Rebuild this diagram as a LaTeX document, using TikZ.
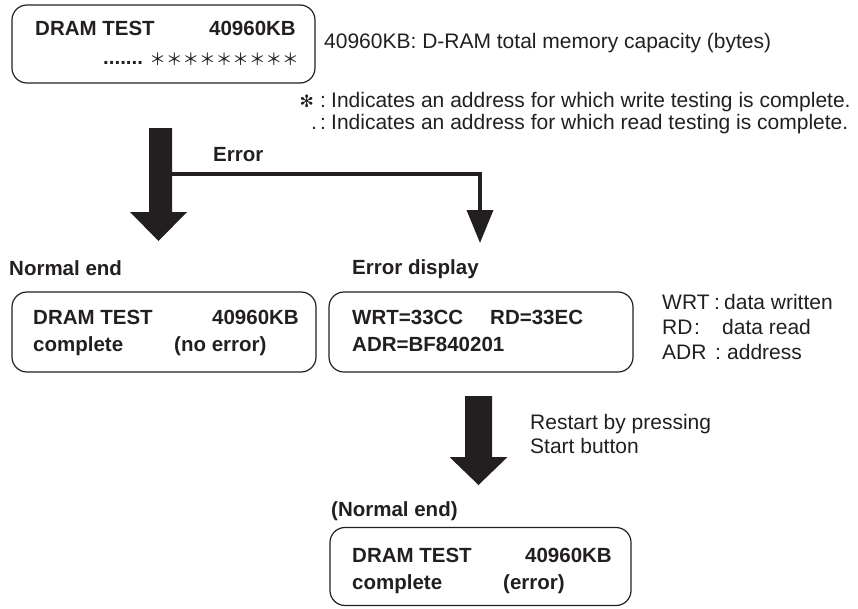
\documentclass[tikz,border=0pt]{standalone}
\usepackage{fontspec}
\setmainfont{Liberation Sans}
\newfontfamily\cjk{Noto Sans CJK JP}
\newfontfamily\dejavu{DejaVu Sans}
\usetikzlibrary{arrows.meta}
\definecolor{ink}{RGB}{35,31,32}
\begin{document}
\begin{tikzpicture}[x=1pt,y=-1pt,color=ink,
  lcd/.style={draw=ink,line width=1.2pt,rounded corners=15pt,inner sep=0pt},
  bt/.style={inner sep=0pt,text=ink,font=\fontsize{20.5}{24}\selectfont\bfseries},
  rt/.style={inner sep=0pt,text=ink,font=\fontsize{21}{25}\selectfont},
  thinarrow/.style={draw=ink,line width=3.5pt,-{Triangle[width=26pt,length=33pt]}}]
\useasboundingbox (0,0) rectangle (858,608);
% boxes
\node[lcd,minimum width=303pt,minimum height=78pt] (box1) at (163.5,44) {};
\node[lcd,minimum width=304pt,minimum height=80pt] (box2) at (164,332) {};
\node[lcd,minimum width=304pt,minimum height=80pt] (box3) at (481,332) {};
\node[lcd,minimum width=301pt,minimum height=78pt] (box4) at (480.5,566.5) {};
% box1 text
\node[bt,anchor=base west] (b1a) at (35,35) {DRAM TEST};
\node[bt,anchor=base east] (b1b) at (296,35) {40960KB};
\node[bt,anchor=base west] (b1c) at (103,64) {.......};
\node[inner sep=0pt,anchor=base east,text=ink,font=\cjk\fontsize{16.6}{20}\selectfont] (b1d) at (299,65) {＊＊＊＊＊＊＊＊＊};
% notes
\node[rt,anchor=base west] (n1) at (324,48) {40960KB: D-RAM total memory capacity (bytes)};
\node[inner sep=0pt,anchor=base east,text=ink,font=\dejavu\fontsize{17}{20}\selectfont] (s1) at (314,107) {✻};
\node[rt,anchor=base west] (c1) at (320,107) {:};
\node[rt,anchor=base west] (t1) at (331,107) {Indicates an address for which write testing is complete.};
\node[rt,anchor=base west] (s2) at (311,129) {.};
\node[rt,anchor=base west] (c2) at (320,129) {:};
\node[rt,anchor=base west] (t2) at (331,129) {Indicates an address for which read testing is complete.};
% big arrow 1 and error branch
\fill[ink] (149,128) -- (172,128) -- (172,212) -- (187,212) -- (158.5,241) -- (130,212) -- (149,212) -- cycle;
\coordinate (errstart) at (172,174);
\coordinate (errend) at (480,243);
\draw[thinarrow] (errstart) -| (errend);
\node[bt,anchor=base west] (err) at (213,161) {Error};
% labels
\node[bt,anchor=base west] (lne) at (9,275) {Normal end};
\node[bt,anchor=base west] (led) at (352,274) {Error display};
% box2 text
\node[bt,anchor=base west] (b2a) at (33,324) {DRAM TEST};
\node[bt,anchor=base east] (b2b) at (299,324) {40960KB};
\node[bt,anchor=base west] (b2c) at (33,351) {complete};
\node[bt,anchor=base west] (b2d) at (174,351) {(no error)};
% box3 text
\node[bt,anchor=base west] (b3a) at (352,324) {WRT=33CC};
\node[bt,anchor=base west] (b3b) at (490,324) {RD=33EC};
\node[bt,anchor=base west] (b3c) at (352,351) {ADR=BF840201};
% legend
\node[rt,anchor=base west] (w1) at (662,309) {WRT};
\node[rt,anchor=base west] (w2) at (714,309) {:};
\node[rt,anchor=base west] (w3) at (724,309) {data written};
\node[rt,anchor=base west] (r1) at (662,334) {RD};
\node[rt,anchor=base west] (r2) at (694,334) {:};
\node[rt,anchor=base west] (r3) at (722,334) {data read};
\node[rt,anchor=base west] (d1) at (662,359) {ADR};
\node[rt,anchor=base west] (d2) at (715,359) {:};
\node[rt,anchor=base west] (d3) at (727,359) {address};
% big arrow 2
\fill[ink] (465,396) -- (492,396) -- (492,457) -- (507.5,457) -- (478.5,485) -- (449.5,457) -- (465,457) -- cycle;
\node[rt,anchor=base west] (rs1) at (530,429) {Restart by pressing};
\node[rt,anchor=base west] (rs2) at (530,453) {Start button};
\node[bt,anchor=base west] (lne2) at (331,516) {(Normal end)};
% box4 text
\node[bt,anchor=base west] (b4a) at (352,562) {DRAM TEST};
\node[bt,anchor=base east] (b4b) at (612,562) {40960KB};
\node[bt,anchor=base west] (b4c) at (352,589) {complete};
\node[bt,anchor=base west] (b4d) at (503,589) {(error)};
\end{tikzpicture}
\end{document}
